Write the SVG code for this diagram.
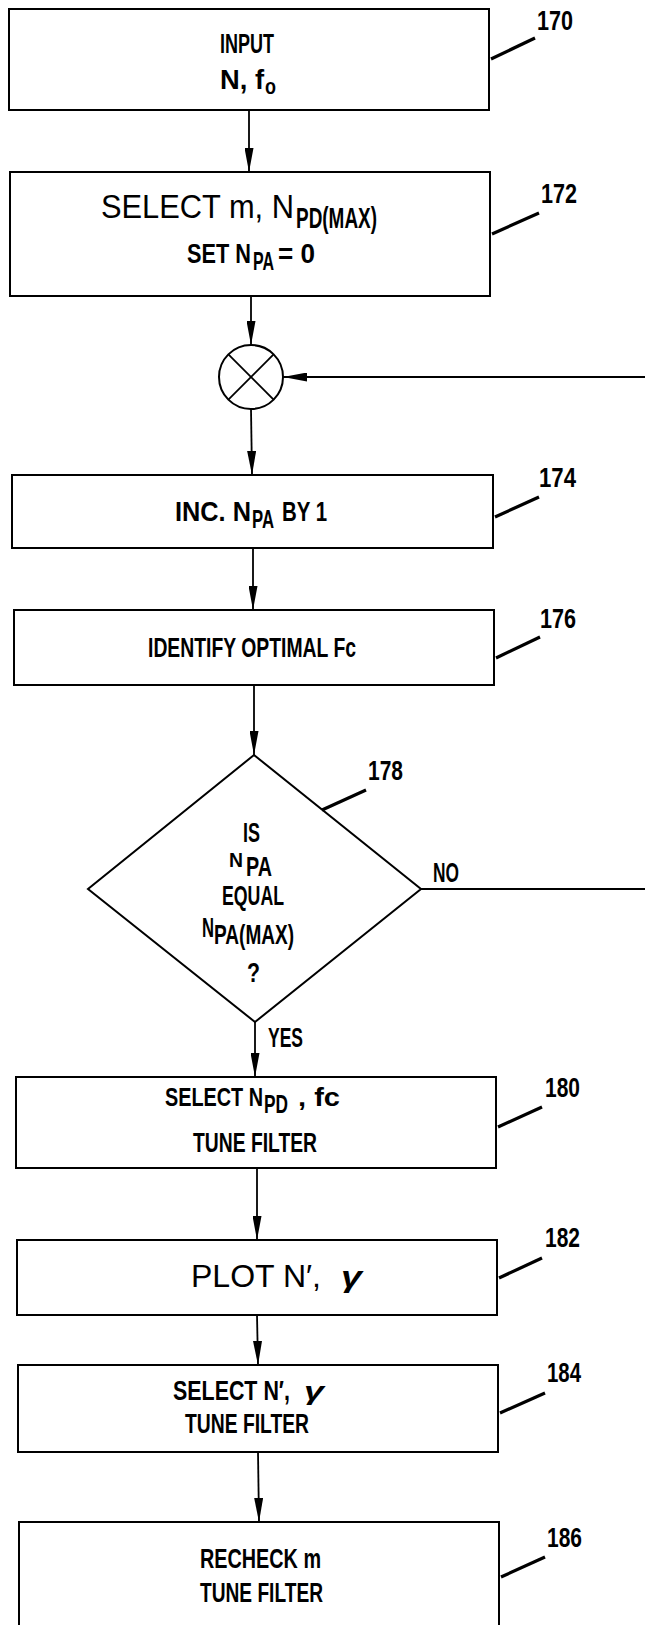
<svg xmlns="http://www.w3.org/2000/svg" width="645" height="1625" viewBox="0 0 645 1625">
<style>
.box{fill:#fff;stroke:#000;stroke-width:2}
.ln{fill:none;stroke:#000;stroke-width:1.8}
.ld{fill:none;stroke:#000;stroke-width:3.2}
.t{font-family:"Liberation Sans Narrow","Liberation Sans",Arial,sans-serif;font-weight:bold;fill:#000}
.r{font-weight:normal}
.g{font-style:italic}
.n{font-family:"Liberation Sans Narrow","Liberation Sans",Arial,sans-serif;font-weight:bold;fill:#000;font-size:28px}
</style>
<defs>
<marker id="ah" markerWidth="24" markerHeight="9" refX="24" refY="4.5" orient="auto" markerUnits="userSpaceOnUse" viewBox="0 0 24 9">
<path d="M0,0 L24,4.5 L0,9 Z" fill="#000"/>
</marker>
</defs>
<rect width="645" height="1625" fill="#fff"/>
<g id="connectors">
<line class="ln" x1="249" y1="110" x2="249" y2="172" marker-end="url(#ah)"/>
<line class="ln" x1="251" y1="296" x2="251" y2="345" marker-end="url(#ah)"/>
<line class="ln" x1="645" y1="377" x2="283" y2="377" marker-end="url(#ah)"/>
<line class="ln" x1="251" y1="409" x2="252" y2="475" marker-end="url(#ah)"/>
<line class="ln" x1="253" y1="548" x2="253" y2="610" marker-end="url(#ah)"/>
<line class="ln" x1="254" y1="685" x2="254" y2="755" marker-end="url(#ah)"/>
<line class="ln" x1="421" y1="889" x2="645" y2="889"/>
<line class="ln" x1="255" y1="1022" x2="255" y2="1077" marker-end="url(#ah)"/>
<line class="ln" x1="257" y1="1168" x2="257" y2="1240" marker-end="url(#ah)"/>
<line class="ln" x1="257" y1="1315" x2="258" y2="1365" marker-end="url(#ah)"/>
<line class="ln" x1="258" y1="1452" x2="259" y2="1522" marker-end="url(#ah)"/>
<text class="t" x="433" y="882" font-size="27" textLength="26" lengthAdjust="spacingAndGlyphs">NO</text>
<text class="t" x="268" y="1047" font-size="27" textLength="35" lengthAdjust="spacingAndGlyphs">YES</text>
</g>
<g id="n170">
<rect class="box" x="9" y="9" width="480" height="101"/>
<text class="t" x="220" y="53" font-size="27" textLength="54" lengthAdjust="spacingAndGlyphs">INPUT</text>
<text class="t" x="220" y="89" font-size="27" textLength="44" lengthAdjust="spacingAndGlyphs">N, f</text>
<text class="t" x="265" y="94" font-size="22" textLength="11" lengthAdjust="spacingAndGlyphs">o</text>
<line class="ld" x1="491" y1="59" x2="535" y2="38"/>
<text class="n" x="537" y="30" textLength="36" lengthAdjust="spacingAndGlyphs">170</text>
</g>
<g id="n172">
<rect class="box" x="10" y="172" width="480" height="124"/>
<text class="t r" transform="translate(101,218) scale(0.85,1)" font-size="33" textLength="227" lengthAdjust="spacingAndGlyphs">SELECT  m,  N</text>
<text class="t" transform="translate(296,228) scale(0.65,1)" font-size="29" textLength="124.6" lengthAdjust="spacingAndGlyphs">PD(MAX)</text>
<text class="t" transform="translate(187,263) scale(0.78,1)" font-size="28" textLength="82" lengthAdjust="spacingAndGlyphs">SET N</text>
<text class="t" transform="translate(253,270) scale(0.58,1)" font-size="26" textLength="36.2" lengthAdjust="spacingAndGlyphs">PA</text>
<text class="t" x="278" y="263" font-size="28" textLength="37" lengthAdjust="spacingAndGlyphs">= 0</text>
<line class="ld" x1="492" y1="234" x2="539" y2="213"/>
<text class="n" x="541" y="203" textLength="36" lengthAdjust="spacingAndGlyphs">172</text>
</g>
<g id="sum">
<circle class="box" cx="251" cy="377" r="32"/>
<line class="ln" x1="228.4" y1="354.4" x2="273.6" y2="399.6" stroke-width="3"/>
<line class="ln" x1="273.6" y1="354.4" x2="228.4" y2="399.6" stroke-width="3"/>
</g>
<g id="n174">
<rect class="box" x="12" y="475" width="481" height="73"/>
<text class="t" transform="translate(175,521) scale(0.9,1)" font-size="28" textLength="84.4" lengthAdjust="spacingAndGlyphs">INC. N</text>
<text class="t" transform="translate(252,528) scale(0.61,1)" font-size="26" textLength="36" lengthAdjust="spacingAndGlyphs">PA</text>
<text class="t" transform="translate(282,521) scale(0.72,1)" font-size="28" textLength="62.5" lengthAdjust="spacingAndGlyphs">BY 1</text>
<line class="ld" x1="495" y1="517" x2="539" y2="497"/>
<text class="n" x="539" y="487" textLength="37" lengthAdjust="spacingAndGlyphs">174</text>
</g>
<g id="n176">
<rect class="box" x="14" y="610" width="480" height="75"/>
<text class="t" x="148" y="657" font-size="28" textLength="208" lengthAdjust="spacingAndGlyphs">IDENTIFY OPTIMAL Fc</text>
<line class="ld" x1="496" y1="658" x2="540" y2="637"/>
<text class="n" x="540" y="628" textLength="36" lengthAdjust="spacingAndGlyphs">176</text>
</g>
<g id="n178">
<path class="box" d="M254,755 L421,889 L255,1022 L88,889 Z"/>
<text class="t" x="243" y="842" font-size="27" textLength="17" lengthAdjust="spacingAndGlyphs">IS</text>
<text class="t" x="229" y="867" font-size="20" textLength="14" lengthAdjust="spacingAndGlyphs">N</text>
<text class="t" transform="translate(246,876) scale(0.69,1)" font-size="27" textLength="37.7" lengthAdjust="spacingAndGlyphs">PA</text>
<text class="t" x="222" y="905" font-size="27" textLength="62" lengthAdjust="spacingAndGlyphs">EQUAL</text>
<text class="t" transform="translate(202,937) scale(0.62,1)" font-size="27" textLength="19.4" lengthAdjust="spacingAndGlyphs">N</text>
<text class="t" transform="translate(214,944) scale(0.82,1)" font-size="27" textLength="97.6" lengthAdjust="spacingAndGlyphs">PA(MAX)</text>
<text class="t" x="247" y="982" font-size="27" textLength="13" lengthAdjust="spacingAndGlyphs">?</text>
<line class="ld" x1="322" y1="810" x2="366" y2="790"/>
<text class="n" x="368" y="780" textLength="35" lengthAdjust="spacingAndGlyphs">178</text>
</g>
<g id="n180">
<rect class="box" x="16" y="1077" width="480" height="91"/>
<text class="t" transform="translate(165,1106) scale(0.76,1)" font-size="26" textLength="129" lengthAdjust="spacingAndGlyphs">SELECT N</text>
<text class="t" transform="translate(264,1113) scale(0.69,1)" font-size="25" textLength="34.8" lengthAdjust="spacingAndGlyphs">PD</text>
<text class="t" x="298" y="1106" font-size="26" textLength="42" lengthAdjust="spacingAndGlyphs">, fc</text>
<text class="t" x="193" y="1152" font-size="27" textLength="124" lengthAdjust="spacingAndGlyphs">TUNE  FILTER</text>
<line class="ld" x1="498" y1="1127" x2="542" y2="1107"/>
<text class="n" x="545" y="1097" textLength="35" lengthAdjust="spacingAndGlyphs">180</text>
</g>
<g id="n182">
<rect class="box" x="17" y="1240" width="480" height="75"/>
<text class="t r" transform="translate(191,1287) scale(0.92,1)" font-size="32" textLength="141.3" lengthAdjust="spacingAndGlyphs">PLOT  N′,</text>
<text class="t g" x="341" y="1287" font-size="30" textLength="21" lengthAdjust="spacingAndGlyphs">γ</text>
<line class="ld" x1="499" y1="1278" x2="542" y2="1258"/>
<text class="n" x="545" y="1247" textLength="35" lengthAdjust="spacingAndGlyphs">182</text>
</g>
<g id="n184">
<rect class="box" x="18" y="1365" width="480" height="87"/>
<text class="t" transform="translate(173,1400) scale(0.79,1)" font-size="27" textLength="148" lengthAdjust="spacingAndGlyphs">SELECT N′,</text>
<text class="t g" x="304" y="1400" font-size="25" textLength="20" lengthAdjust="spacingAndGlyphs">γ</text>
<text class="t" x="185" y="1433" font-size="27" textLength="124" lengthAdjust="spacingAndGlyphs">TUNE  FILTER</text>
<line class="ld" x1="500" y1="1413" x2="545" y2="1393"/>
<text class="n" x="547" y="1382" textLength="34" lengthAdjust="spacingAndGlyphs">184</text>
</g>
<g id="n186">
<rect class="box" x="19" y="1522" width="480" height="108"/>
<text class="t" x="200" y="1568" font-size="27" textLength="121" lengthAdjust="spacingAndGlyphs">RECHECK  m</text>
<text class="t" x="200" y="1602" font-size="27" textLength="123" lengthAdjust="spacingAndGlyphs">TUNE  FILTER</text>
<line class="ld" x1="501" y1="1577" x2="545" y2="1557"/>
<text class="n" x="547" y="1547" textLength="35" lengthAdjust="spacingAndGlyphs">186</text>
</g>
</svg>
